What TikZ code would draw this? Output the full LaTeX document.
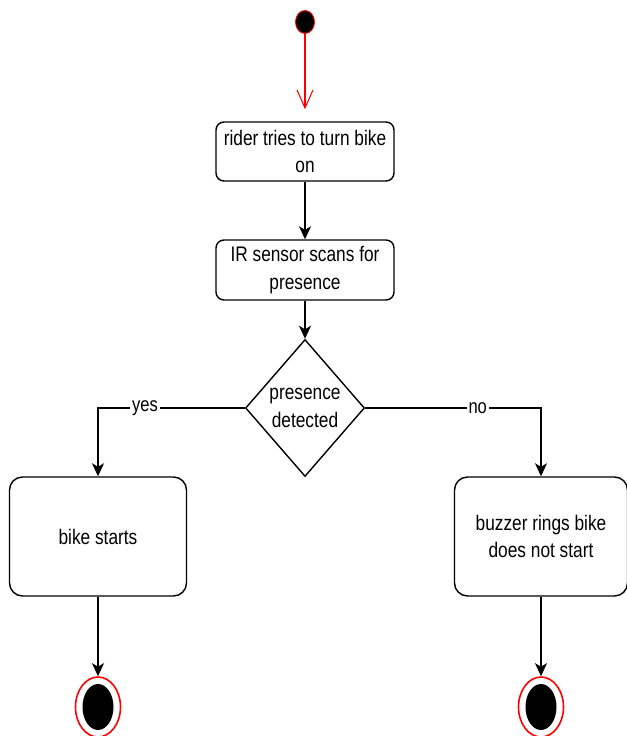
\documentclass[tikz,border=0pt]{standalone}
\usepackage{fontspec}
\setmainfont{Liberation Sans}[FakeStretch=0.82]
\usetikzlibrary{shapes.geometric,positioning,arrows.meta}

\begin{document}
\begin{tikzpicture}[
  box/.style={rectangle, draw, line width=0.8pt, rounded corners=1.6mm, align=center, font=\fontsize{12}{15.8}\selectfont, inner sep=2pt},
  decision/.style={diamond, draw, line width=0.8pt, align=center, font=\fontsize{12}{15.8}\selectfont, inner sep=0pt, minimum width=2.38cm, minimum height=2.74cm},
  arrow/.style={-{Stealth[length=2.6mm, width=2.4mm, inset=0.7mm]}, line width=0.8pt},
  startarrow/.style={-{Straight Barb[length=3.6mm, width=3.2mm]}, red, line width=0.6pt},
  guard/.style={font=\fontsize{11.5}{13}\selectfont, fill=white, inner sep=1pt},
  initnode/.style={ellipse, draw=red, fill=black, line width=0.5pt, minimum width=0.38cm, minimum height=0.46cm, inner sep=0pt},
  finalnode/.style={ellipse, draw=red, fill=white, line width=0.9pt, minimum width=0.9cm, minimum height=1.2cm, inner sep=0pt,
    path picture={\fill[black] (path picture bounding box.center) ellipse (0.31cm and 0.46cm);}},
]
\useasboundingbox (0,0) rectangle (12.54,14.72);

% === BIKE START ACTIVITY ===
\node[initnode] (start) at (6.10, 14.28) {};

\node[box, minimum width=3.56cm, minimum height=1.18cm] (turnon) at (6.10, 11.69) {rider tries to turn bike\\on};
\node[box, minimum width=3.56cm, minimum height=1.20cm] (scan) at (6.10, 9.32) {IR sensor scans for\\presence};
\node[decision] (detect) at (6.10, 6.56) {presence\\detected};

\node[box, rounded corners=2.6mm, minimum width=3.54cm, minimum height=2.38cm] (starts) at (1.96, 3.99) {bike starts};
\node[box, rounded corners=2.6mm, minimum width=3.46cm, minimum height=2.38cm] (buzzer) at (10.82, 3.99) {buzzer rings bike\\does not start};

\node[finalnode] (endyes) at (1.96, 0.58) {};
\node[finalnode] (endno) at (10.82, 0.58) {};

\draw[startarrow, shorten >=0.24cm] (start) -- (turnon);
\draw[arrow] (turnon) -- (scan);
\draw[arrow] (scan) -- (detect);

\draw[arrow] (detect.west) -| node[guard, pos=0.34] (yes) {yes} (starts.north);
\draw[arrow] (detect.east) -| node[guard, pos=0.32] (no) {no} (buzzer.north);

\draw[arrow] (starts) -- (endyes);
\draw[arrow] (buzzer) -- (endno);
\end{tikzpicture}
\end{document}
